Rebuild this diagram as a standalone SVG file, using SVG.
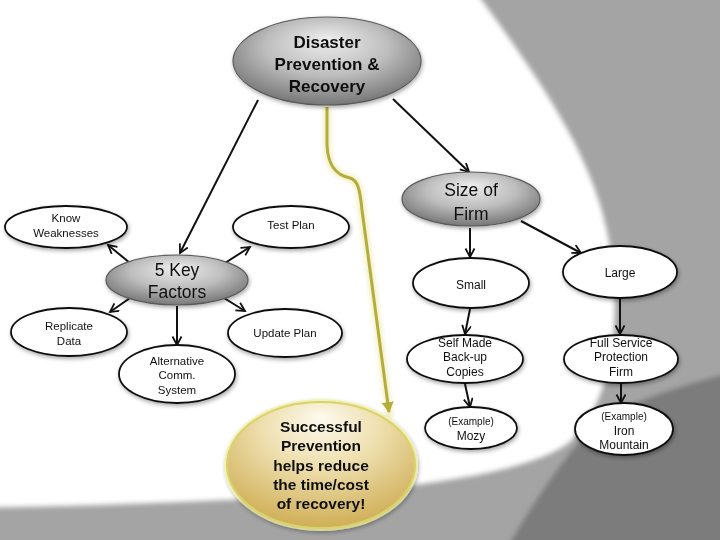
<svg xmlns="http://www.w3.org/2000/svg" width="720" height="540" viewBox="0 0 720 540">
<defs>
<radialGradient id="gGray" cx="50%" cy="40%" r="60%" fx="50%" fy="25%">
<stop offset="0" stop-color="#eeeeee"/>
<stop offset="0.55" stop-color="#bdbdbd"/>
<stop offset="1" stop-color="#777777"/>
</radialGradient>
<radialGradient id="gGold" cx="50%" cy="30%" r="70%" fx="50%" fy="12%">
<stop offset="0" stop-color="#fdfaee"/>
<stop offset="0.45" stop-color="#eedfae"/>
<stop offset="1" stop-color="#cfae56"/>
</radialGradient>
<filter id="shadow" x="-20%" y="-20%" width="140%" height="150%">
<feGaussianBlur in="SourceAlpha" stdDeviation="2"/>
<feOffset dx="1" dy="2" result="b"/>
<feComponentTransfer><feFuncA type="linear" slope="0.35"/></feComponentTransfer>
<feMerge><feMergeNode/><feMergeNode in="SourceGraphic"/></feMerge>
</filter>
<filter id="soft" x="-5%" y="-5%" width="110%" height="110%">
<feGaussianBlur stdDeviation="2.5"/>
</filter>
<filter id="glow" x="-50%" y="-10%" width="200%" height="120%">
<feGaussianBlur stdDeviation="2"/>
</filter>
<marker id="arr" markerUnits="userSpaceOnUse" markerWidth="12" markerHeight="12" refX="9" refY="5" orient="auto">
<path d="M0.5,0.5 L9,5 L0.5,9.5" fill="none" stroke="#111" stroke-width="1.8"/>
</marker>
<marker id="arrY" markerUnits="userSpaceOnUse" markerWidth="14" markerHeight="14" refX="10" refY="6" orient="auto">
<path d="M0,0 L11,6 L0,12 Z" fill="#b3ae3c"/>
</marker>
<style>
.t{font-family:"Liberation Sans",Arial,sans-serif;fill:#111;text-anchor:middle}
.s{font-size:11.5px}
.r{font-size:12px}
.x{font-size:10px}
.big{font-size:17.5px}
.bold{font-weight:bold;font-size:17px}
.gold{font-weight:bold;font-size:15.5px}
.wn{fill:#fff;stroke:#111;stroke-width:1.8}
.gn{fill:url(#gGray);stroke:#5a5a5a;stroke-width:1.2}
.ln{stroke:#111;stroke-width:2;fill:none;marker-end:url(#arr)}
</style>
</defs>

<g id="background">
<rect x="0" y="0" width="720" height="540" fill="#a4a4a4"/>
<path d="M-30,-30 L460,-30 C540,80 600,160 612,260 C620,330 612,400 570,442 C530,472 430,486 300,496 Q150,505 -30,508 Z" fill="#fff" filter="url(#soft)"/>
<path d="M750,368 C680,385 620,405 595,425 C570,450 540,490 500,560 L750,560 Z" fill="#7c7c7c" filter="url(#soft)"/>
</g>

<g id="connectors">
<line class="ln" x1="258" y1="100" x2="180" y2="253"/>
<line class="ln" x1="393" y1="99" x2="469" y2="172"/>
<line class="ln" x1="130" y1="263" x2="108" y2="245"/>
<line class="ln" x1="225" y1="263" x2="250" y2="247"/>
<line class="ln" x1="130" y1="298" x2="110" y2="312"/>
<line class="ln" x1="224" y1="298" x2="245" y2="311"/>
<line class="ln" x1="177" y1="306" x2="177" y2="345"/>
<line class="ln" x1="470" y1="228" x2="470" y2="257"/>
<line class="ln" x1="521" y1="221" x2="581" y2="253"/>
<line class="ln" x1="470" y1="309" x2="465" y2="334"/>
<line class="ln" x1="620" y1="299" x2="620" y2="334"/>
<line class="ln" x1="465" y1="384" x2="470" y2="407"/>
<line class="ln" x1="621" y1="384" x2="621" y2="403"/>
<path d="M327,107 L327,145 C328,170 340,176 350,178 C358,180 360,190 362,210 L390,418" fill="none" stroke="#e8e49a" stroke-width="7" opacity="0.6" filter="url(#glow)"/>
<path d="M327,107 L327,145 C328,170 340,176 350,178 C358,180 360,190 362,210 L389,412" fill="none" stroke="#b3ae3c" stroke-width="3" marker-end="url(#arrY)"/>
</g>

<g id="n-disaster" filter="url(#shadow)">
<ellipse class="gn" cx="327" cy="61" rx="94" ry="44"/>
<text class="t bold" x="327" y="48">Disaster</text>
<text class="t bold" x="327" y="70">Prevention &amp;</text>
<text class="t bold" x="327" y="92">Recovery</text>
</g>

<g id="n-size" filter="url(#shadow)">
<ellipse class="gn" cx="471" cy="199" rx="69" ry="27"/>
<text class="t big" x="471" y="196">Size of</text>
<text class="t big" x="471" y="220">Firm</text>
</g>

<g id="n-keyfactors" filter="url(#shadow)">
<ellipse class="gn" cx="177" cy="280" rx="71" ry="25"/>
<text class="t big" x="177" y="276">5 Key</text>
<text class="t big" x="177" y="298">Factors</text>
</g>

<g id="n-know" filter="url(#shadow)">
<ellipse class="wn" cx="66" cy="227" rx="61" ry="21"/>
<text class="t s" x="66" y="222">Know</text>
<text class="t s" x="66" y="237">Weaknesses</text>
</g>

<g id="n-test" filter="url(#shadow)">
<ellipse class="wn" cx="291" cy="227" rx="58" ry="21"/>
<text class="t s" x="291" y="229">Test Plan</text>
</g>

<g id="n-replicate" filter="url(#shadow)">
<ellipse class="wn" cx="69" cy="332" rx="58" ry="24"/>
<text class="t s" x="69" y="330">Replicate</text>
<text class="t s" x="69" y="345">Data</text>
</g>

<g id="n-update" filter="url(#shadow)">
<ellipse class="wn" cx="285" cy="333" rx="57" ry="24"/>
<text class="t s" x="285" y="337">Update Plan</text>
</g>

<g id="n-alt" filter="url(#shadow)">
<ellipse class="wn" cx="177" cy="374" rx="58" ry="29"/>
<text class="t s" x="177" y="365">Alternative</text>
<text class="t s" x="177" y="379">Comm.</text>
<text class="t s" x="177" y="394">System</text>
</g>

<g id="n-small" filter="url(#shadow)">
<ellipse class="wn" cx="471" cy="283" rx="58" ry="25"/>
<text class="t r" x="471" y="289">Small</text>
</g>

<g id="n-large" filter="url(#shadow)">
<ellipse class="wn" cx="620" cy="272" rx="57" ry="26"/>
<text class="t r" x="620" y="277">Large</text>
</g>

<g id="n-selfmade" filter="url(#shadow)">
<ellipse class="wn" cx="465" cy="359" rx="58" ry="24"/>
<text class="t r" x="465" y="347">Self Made</text>
<text class="t r" x="465" y="361">Back-up</text>
<text class="t r" x="465" y="376">Copies</text>
</g>

<g id="n-fullservice" filter="url(#shadow)">
<ellipse class="wn" cx="621" cy="359" rx="57" ry="24"/>
<text class="t r" x="621" y="347">Full Service</text>
<text class="t r" x="621" y="361">Protection</text>
<text class="t r" x="621" y="376">Firm</text>
</g>

<g id="n-mozy" filter="url(#shadow)">
<ellipse class="wn" cx="471" cy="428" rx="46" ry="21"/>
<text class="t x" x="471" y="425">(Example)</text>
<text class="t r" x="471" y="440">Mozy</text>
</g>

<g id="n-iron" filter="url(#shadow)">
<ellipse class="wn" cx="624" cy="429" rx="49" ry="26"/>
<text class="t x" x="624" y="420">(Example)</text>
<text class="t r" x="624" y="435">Iron</text>
<text class="t r" x="624" y="449">Mountain</text>
</g>

<g id="n-successful" filter="url(#shadow)">
<ellipse cx="321" cy="465" rx="94" ry="63" fill="none" stroke="#f2efa0" stroke-width="6" opacity="0.7"/>
<ellipse cx="321" cy="465" rx="94" ry="63" fill="url(#gGold)" stroke="#d9d36a" stroke-width="2"/>
<text class="t gold" x="321" y="432">Successful</text>
<text class="t gold" x="321" y="451">Prevention</text>
<text class="t gold" x="321" y="471">helps reduce</text>
<text class="t gold" x="321" y="490">the time/cost</text>
<text class="t gold" x="321" y="509">of recovery!</text>
</g>
</svg>
